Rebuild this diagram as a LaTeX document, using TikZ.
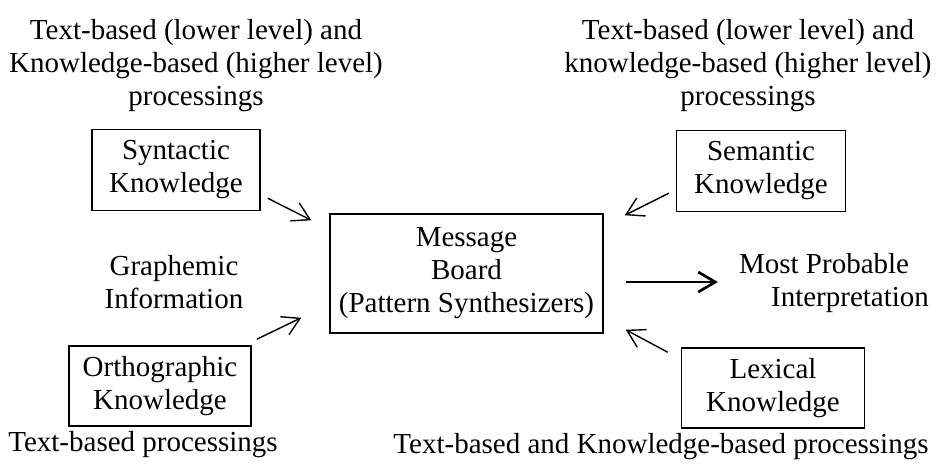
\documentclass[tikz,border=0pt]{standalone}
\usepackage{fontspec}
\setmainfont{Liberation Serif}
\usetikzlibrary{arrows.meta}

\begin{document}
\begin{tikzpicture}[x=1pt, y=-1pt,
	every node/.style={font=\fontsize{29}{33}\selectfont, align=center, inner sep=0pt},
	kbox/.style={draw, line width=1.5pt, minimum width=#1, minimum height=81pt},
	arr/.style={-{Straight Barb[length=17pt,width=20pt]}, line width=1.4pt}]
	\useasboundingbox (0,0) rectangle (936,468);
	\fill[white] (0,0) rectangle (936,468);

	% headings
	\node (headleft) at (196,66) {Text-based (lower level) and\\Knowledge-based (higher level)\\processings};
	\node (headright) at (748,66) {Text-based (lower level) and\\knowledge-based (higher level)\\processings};
	\node (footleft) at (143,445) {Text-based processings};
	\node (footright) at (661,447) {Text-based and Knowledge-based processings};

	% knowledge sources
	\node[kbox=168pt] (syn) at (176,170) {Syntactic\\Knowledge};
	\node[kbox=169pt] (sem) at (761,171) {Semantic\\Knowledge};
	\node[kbox=182pt, minimum height=80pt] (orth) at (160,386) {Orthographic\\Knowledge};
	\node[kbox=183pt, minimum height=80pt] (lex) at (773,388) {Lexical\\Knowledge};
	\node[kbox=273pt, minimum height=119pt] (msg) at (466.5,273.5) {Message\\Board\\(Pattern Synthesizers)};

	\node (graph) at (174,282) {Graphemic\\Information};
	\node[align=left] (res) at (834,283) {Most Probable\\\hspace*{32pt}Interpretation};

	\draw[arr] ([shift={(7,-13)}]syn.south east) -- ([shift={(-18,7)}]msg.north west);
	\draw[arr] ([shift={(-7,-19)}]sem.south west) -- ([shift={(21,2)}]msg.north east);
	\draw[arr] ([shift={(5,-6)}]orth.north east) -- ([shift={(-28,-16)}]msg.south west);
	\draw[arr] ([shift={(-13,5)}]lex.north west) -- ([shift={(22,-4)}]msg.south east);
	\draw[arr, line width=2.7pt] ([shift={(22,8.5)}]msg.east) -- ([shift={(-21,-1)}]res.west);
\end{tikzpicture}
\end{document}
